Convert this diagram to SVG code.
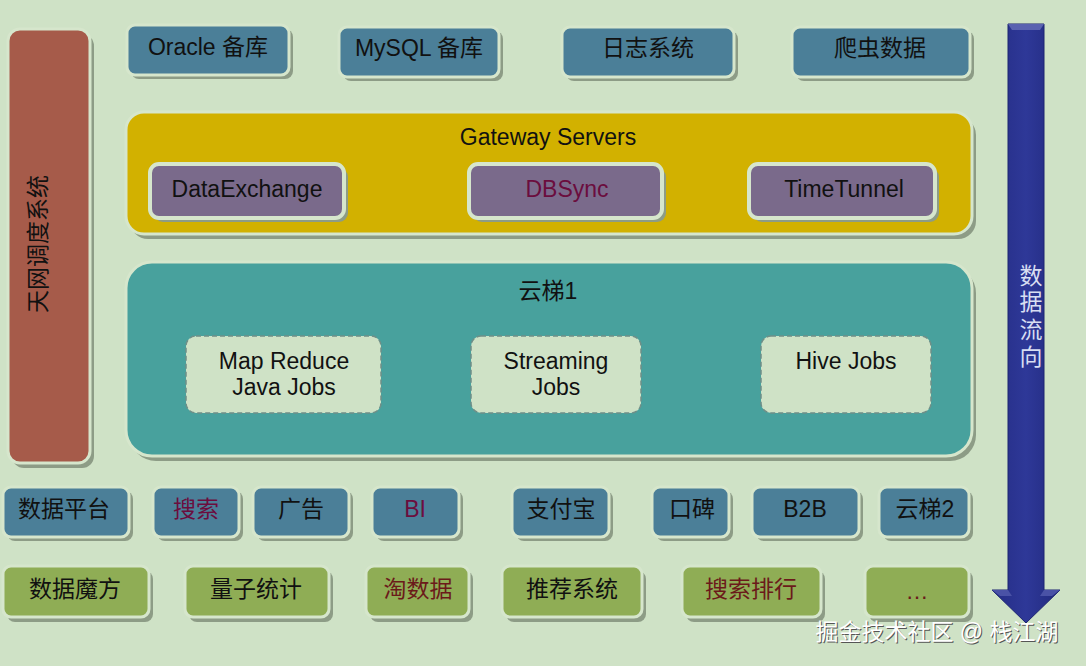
<svg xmlns="http://www.w3.org/2000/svg" width="1086" height="666" viewBox="0 0 1086 666">
<defs>
<style>
text{font-family:"Liberation Sans","Noto Sans CJK SC",sans-serif;font-size:23px;fill:#111;text-anchor:middle;dominant-baseline:central}
.sh{fill:#8d9c86}
.blue{fill:#4b7f98;stroke:#d6e6cc;stroke-width:3}
.green{fill:#8fad55;stroke:#d6e6cc;stroke-width:3}
.purp{fill:#7a6a8b;stroke:#d6e6cc;stroke-width:4}
.job{fill:#cfe2c6;stroke:#6f8f88;stroke-width:1.5;stroke-dasharray:5 3}
.mag{fill:#6b0d3e}
.red{fill:#6b1a1a}
</style>
<linearGradient id="arr" x1="0" y1="0" x2="1" y2="0">
<stop offset="0" stop-color="#252d85"/><stop offset="0.5" stop-color="#2e3898"/><stop offset="1" stop-color="#222a7e"/>
</linearGradient>
</defs>
<rect width="1086" height="666" fill="#cfe2c6"/>

<g id="tianwang">
<rect class="sh" x="12" y="34" width="82" height="434" rx="12"/>
<rect x="8" y="29" width="82" height="434" rx="12" fill="#a65b4a" stroke="#d6e6cc" stroke-width="3"/>
<text transform="translate(38,244) rotate(-90)" font-size="24">天网调度系统</text>
</g>

<g id="oracle"><rect class="sh" x="131" y="29" width="162" height="50" rx="8"/><rect class="blue" x="127" y="25" width="162" height="50" rx="8"/><text x="208" y="47">Oracle 备库</text></g>
<g id="mysql"><rect class="sh" x="343" y="31" width="160" height="50" rx="8"/><rect class="blue" x="339" y="27" width="160" height="50" rx="8"/><text x="419" y="48">MySQL 备库</text></g>
<g id="rizhi"><rect class="sh" x="566" y="31" width="172" height="50" rx="8"/><rect class="blue" x="562" y="27" width="172" height="50" rx="8"/><text x="648" y="48">日志系统</text></g>
<g id="pachong"><rect class="sh" x="796" y="31" width="178" height="50" rx="8"/><rect class="blue" x="792" y="27" width="178" height="50" rx="8"/><text x="880" y="48">爬虫数据</text></g>

<g id="gateway">
<rect class="sh" x="130" y="117" width="846" height="122" rx="18"/>
<rect x="126" y="112" width="846" height="122" rx="18" fill="#d2b100" stroke="#d6e6cc" stroke-width="3"/>
<text x="548" y="137">Gateway Servers</text>
</g>
<g id="dataexchange"><rect class="sh" x="154" y="168" width="194" height="54" rx="9"/><rect class="purp" x="150" y="164" width="194" height="54" rx="9"/><text x="247" y="189">DataExchange</text></g>
<g id="dbsync"><rect class="sh" x="473" y="168" width="193" height="54" rx="9"/><rect class="purp" x="469" y="164" width="193" height="54" rx="9"/><text class="mag" x="567" y="189">DBSync</text></g>
<g id="timetunnel"><rect class="sh" x="753" y="168" width="186" height="54" rx="9"/><rect class="purp" x="749" y="164" width="186" height="54" rx="9"/><text x="844" y="189">TimeTunnel</text></g>

<g id="yunti1">
<rect class="sh" x="130" y="267" width="846" height="194" rx="26"/>
<rect x="126" y="262" width="846" height="194" rx="26" fill="#48a19d" stroke="#d6e6cc" stroke-width="3"/>
<text x="548" y="291">云梯1</text>
</g>
<g id="mapreduce"><rect class="job" x="186" y="336" width="195" height="77" rx="10"/><text x="284" y="361">Map Reduce</text><text x="284" y="387">Java Jobs</text></g>
<g id="streaming"><rect class="job" x="471" y="336" width="170" height="77" rx="10"/><text x="556" y="361">Streaming</text><text x="556" y="387">Jobs</text></g>
<g id="hive"><rect class="job" x="761" y="336" width="170" height="77" rx="10"/><text x="846" y="361">Hive Jobs</text></g>

<g id="shujupingtai"><rect class="sh" x="7" y="491" width="126" height="50" rx="8"/><rect class="blue" x="3" y="487" width="126" height="50" rx="8"/><text x="64" y="509">数据平台</text></g>
<g id="sousuo"><rect class="sh" x="157" y="491" width="86" height="50" rx="8"/><rect class="blue" x="153" y="487" width="86" height="50" rx="8"/><text class="mag" x="196" y="509">搜索</text></g>
<g id="guanggao"><rect class="sh" x="257" y="491" width="96" height="50" rx="8"/><rect class="blue" x="253" y="487" width="96" height="50" rx="8"/><text x="301" y="509">广告</text></g>
<g id="bi"><rect class="sh" x="376" y="491" width="87" height="50" rx="8"/><rect class="blue" x="372" y="487" width="87" height="50" rx="8"/><text class="mag" x="415" y="509">BI</text></g>
<g id="zhifubao"><rect class="sh" x="516" y="491" width="97" height="50" rx="8"/><rect class="blue" x="512" y="487" width="97" height="50" rx="8"/><text x="561" y="509">支付宝</text></g>
<g id="koubei"><rect class="sh" x="656" y="491" width="77" height="50" rx="8"/><rect class="blue" x="652" y="487" width="77" height="50" rx="8"/><text x="692" y="509">口碑</text></g>
<g id="b2b"><rect class="sh" x="756" y="491" width="107" height="50" rx="8"/><rect class="blue" x="752" y="487" width="107" height="50" rx="8"/><text x="805" y="509">B2B</text></g>
<g id="yunti2"><rect class="sh" x="883" y="491" width="90" height="50" rx="8"/><rect class="blue" x="879" y="487" width="90" height="50" rx="8"/><text x="925" y="509">云梯2</text></g>

<g id="mofang"><rect class="sh" x="7" y="571" width="146" height="51" rx="8"/><rect class="green" x="3" y="566" width="146" height="51" rx="8"/><text x="75" y="589">数据魔方</text></g>
<g id="liangzi"><rect class="sh" x="189" y="571" width="144" height="51" rx="8"/><rect class="green" x="185" y="566" width="144" height="51" rx="8"/><text x="256" y="589">量子统计</text></g>
<g id="taoshuju"><rect class="sh" x="370" y="571" width="103" height="51" rx="8"/><rect class="green" x="366" y="566" width="103" height="51" rx="8"/><text class="red" x="418" y="589">淘数据</text></g>
<g id="tuijian"><rect class="sh" x="506" y="571" width="140" height="51" rx="8"/><rect class="green" x="502" y="566" width="140" height="51" rx="8"/><text x="572" y="589">推荐系统</text></g>
<g id="paihang"><rect class="sh" x="686" y="571" width="139" height="51" rx="8"/><rect class="green" x="682" y="566" width="139" height="51" rx="8"/><text class="red" x="751" y="589">搜索排行</text></g>
<g id="more"><rect class="sh" x="869" y="571" width="104" height="51" rx="8"/><rect class="green" x="865" y="566" width="104" height="51" rx="8"/><text class="red" x="917" y="591" font-size="16">…</text></g>

<g id="connectors">
<g id="dataflow">
<path d="M1008,24 L1044,24 L1044,590 L1060,590 L1026,623 L992,590 L1008,590 Z" fill="url(#arr)" stroke="#1c2470" stroke-width="1"/>
<path d="M1008,24 L1044,24 L1040,30 L1012,30 Z" fill="#5a62b0"/>
<path d="M992,590 L1008,590 L1012,596 L1000,596 Z" fill="#4a52a6"/>
<path d="M1060,590 L1044,590 L1040,596 L1052,596 Z" fill="#4a52a6"/>
<text x="1031" y="276" font-size="21" style="fill:#d8def2">数</text>
<text x="1031" y="302" font-size="21" style="fill:#d8def2">据</text>
<text x="1031" y="330" font-size="21" style="fill:#d8def2">流</text>
<text x="1031" y="357" font-size="21" style="fill:#d8def2">向</text>
</g>
</g>

<g id="watermark">
<text x="937" y="632" font-size="25" style="fill:#555" transform="translate(1,1)">掘金技术社区 @ 栈江湖</text>
<text x="937" y="632" font-size="25" style="fill:#ffffff">掘金技术社区 @ 栈江湖</text>
</g>
</svg>
